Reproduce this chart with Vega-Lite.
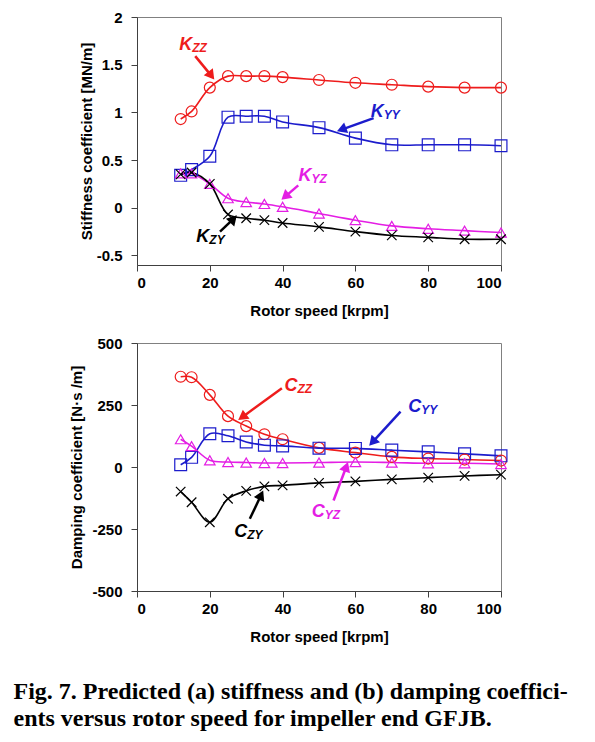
{
  "$schema": "https://vega.github.io/schema/vega-lite/v6.json",
  "padding": {"left": 13, "top": 9, "right": 5, "bottom": 5},
  "background": "white",
  "config": {
    "font": "Liberation Sans",
    "view": {"stroke": "#808080", "strokeWidth": 1},
    "axis": {"grid": false, "domainColor": "#404040", "tickColor": "#404040", "tickSize": 6,
      "labelFont": "Liberation Sans", "labelFontWeight": "bold", "labelFontSize": 15, "labelColor": "black",
      "titleFont": "Liberation Sans", "titleFontWeight": "bold", "titleFontSize": 15, "titleColor": "black"},
    "axisX": {"labelPadding": 4, "titlePadding": 13},
    "axisY": {"labelPadding": 9}
  },
  "datasets": {
    "stiff": [
      {"speed": 12, "value": 0.93, "pair": "ZZ"}, {"speed": 15, "value": 1.01, "pair": "ZZ"}, {"speed": 20, "value": 1.26, "pair": "ZZ"}, {"speed": 25, "value": 1.38, "pair": "ZZ"}, {"speed": 30, "value": 1.38, "pair": "ZZ"}, {"speed": 35, "value": 1.38, "pair": "ZZ"}, {"speed": 40, "value": 1.37, "pair": "ZZ"}, {"speed": 50, "value": 1.34, "pair": "ZZ"}, {"speed": 60, "value": 1.31, "pair": "ZZ"}, {"speed": 70, "value": 1.29, "pair": "ZZ"}, {"speed": 80, "value": 1.27, "pair": "ZZ"}, {"speed": 90, "value": 1.26, "pair": "ZZ"}, {"speed": 100, "value": 1.26, "pair": "ZZ"},
      {"speed": 12, "value": 0.34, "pair": "YY"}, {"speed": 15, "value": 0.40, "pair": "YY"}, {"speed": 20, "value": 0.54, "pair": "YY"}, {"speed": 25, "value": 0.95, "pair": "YY"}, {"speed": 30, "value": 0.96, "pair": "YY"}, {"speed": 35, "value": 0.96, "pair": "YY"}, {"speed": 40, "value": 0.90, "pair": "YY"}, {"speed": 50, "value": 0.84, "pair": "YY"}, {"speed": 60, "value": 0.73, "pair": "YY"}, {"speed": 70, "value": 0.66, "pair": "YY"}, {"speed": 80, "value": 0.66, "pair": "YY"}, {"speed": 90, "value": 0.66, "pair": "YY"}, {"speed": 100, "value": 0.65, "pair": "YY"},
      {"speed": 12, "value": 0.36, "pair": "YZ"}, {"speed": 15, "value": 0.36, "pair": "YZ"}, {"speed": 20, "value": 0.25, "pair": "YZ"}, {"speed": 25, "value": 0.10, "pair": "YZ"}, {"speed": 30, "value": 0.06, "pair": "YZ"}, {"speed": 35, "value": 0.04, "pair": "YZ"}, {"speed": 40, "value": 0.01, "pair": "YZ"}, {"speed": 50, "value": -0.06, "pair": "YZ"}, {"speed": 60, "value": -0.13, "pair": "YZ"}, {"speed": 70, "value": -0.19, "pair": "YZ"}, {"speed": 80, "value": -0.22, "pair": "YZ"}, {"speed": 90, "value": -0.24, "pair": "YZ"}, {"speed": 100, "value": -0.26, "pair": "YZ"},
      {"speed": 12, "value": 0.35, "pair": "ZY"}, {"speed": 15, "value": 0.37, "pair": "ZY"}, {"speed": 20, "value": 0.25, "pair": "ZY"}, {"speed": 25, "value": -0.07, "pair": "ZY"}, {"speed": 30, "value": -0.11, "pair": "ZY"}, {"speed": 35, "value": -0.13, "pair": "ZY"}, {"speed": 40, "value": -0.16, "pair": "ZY"}, {"speed": 50, "value": -0.20, "pair": "ZY"}, {"speed": 60, "value": -0.25, "pair": "ZY"}, {"speed": 70, "value": -0.29, "pair": "ZY"}, {"speed": 80, "value": -0.31, "pair": "ZY"}, {"speed": 90, "value": -0.33, "pair": "ZY"}, {"speed": 100, "value": -0.33, "pair": "ZY"}
    ],
    "damp": [
      {"speed": 12, "value": 364, "pair": "ZZ"}, {"speed": 15, "value": 362, "pair": "ZZ"}, {"speed": 20, "value": 291, "pair": "ZZ"}, {"speed": 25, "value": 205, "pair": "ZZ"}, {"speed": 30, "value": 165, "pair": "ZZ"}, {"speed": 35, "value": 132, "pair": "ZZ"}, {"speed": 40, "value": 112, "pair": "ZZ"}, {"speed": 50, "value": 77, "pair": "ZZ"}, {"speed": 60, "value": 58, "pair": "ZZ"}, {"speed": 70, "value": 41, "pair": "ZZ"}, {"speed": 80, "value": 34, "pair": "ZZ"}, {"speed": 90, "value": 30, "pair": "ZZ"}, {"speed": 100, "value": 26, "pair": "ZZ"},
      {"speed": 12, "value": 9, "pair": "YY"}, {"speed": 15, "value": 39, "pair": "YY"}, {"speed": 20, "value": 134, "pair": "YY"}, {"speed": 25, "value": 126, "pair": "YY"}, {"speed": 30, "value": 101, "pair": "YY"}, {"speed": 35, "value": 88, "pair": "YY"}, {"speed": 40, "value": 85, "pair": "YY"}, {"speed": 50, "value": 76, "pair": "YY"}, {"speed": 60, "value": 75, "pair": "YY"}, {"speed": 70, "value": 68, "pair": "YY"}, {"speed": 80, "value": 61, "pair": "YY"}, {"speed": 90, "value": 53, "pair": "YY"}, {"speed": 100, "value": 45, "pair": "YY"},
      {"speed": 12, "value": 112, "pair": "YZ"}, {"speed": 15, "value": 84, "pair": "YZ"}, {"speed": 20, "value": 27, "pair": "YZ"}, {"speed": 25, "value": 20, "pair": "YZ"}, {"speed": 30, "value": 18, "pair": "YZ"}, {"speed": 35, "value": 16, "pair": "YZ"}, {"speed": 40, "value": 16, "pair": "YZ"}, {"speed": 50, "value": 18, "pair": "YZ"}, {"speed": 60, "value": 20, "pair": "YZ"}, {"speed": 70, "value": 18, "pair": "YZ"}, {"speed": 80, "value": 15, "pair": "YZ"}, {"speed": 90, "value": 15, "pair": "YZ"}, {"speed": 100, "value": 12, "pair": "YZ"},
      {"speed": 12, "value": -99, "pair": "ZY"}, {"speed": 15, "value": -142, "pair": "ZY"}, {"speed": 20, "value": -223, "pair": "ZY"}, {"speed": 25, "value": -128, "pair": "ZY"}, {"speed": 30, "value": -96, "pair": "ZY"}, {"speed": 35, "value": -78, "pair": "ZY"}, {"speed": 40, "value": -74, "pair": "ZY"}, {"speed": 50, "value": -64, "pair": "ZY"}, {"speed": 60, "value": -58, "pair": "ZY"}, {"speed": 70, "value": -50, "pair": "ZY"}, {"speed": 80, "value": -43, "pair": "ZY"}, {"speed": 90, "value": -36, "pair": "ZY"}, {"speed": 100, "value": -31, "pair": "ZY"}
    ],
    "arrows": [
      {"panel": "a", "pair": "ZZ", "speed": 16.0, "value": 1.59, "speed2": 20.4, "value2": 1.385, "angle": 143},
      {"panel": "a", "pair": "YY", "speed": 65.0, "value": 0.94, "speed2": 56.2, "value2": 0.82, "angle": 249},
      {"panel": "a", "pair": "YZ", "speed": 44.3, "value": 0.235, "speed2": 40.7, "value2": 0.117, "angle": 229},
      {"panel": "a", "pair": "ZY", "speed": 22.8, "value": -0.25, "speed2": 26.5, "value2": -0.117, "angle": 43},
      {"panel": "b", "pair": "ZZ", "speed": 39.8, "value": 318, "speed2": 28.9, "value2": 201, "angle": 234},
      {"panel": "b", "pair": "YY", "speed": 72.4, "value": 223, "speed2": 64.7, "value2": 100, "angle": 222},
      {"panel": "b", "pair": "YZ", "speed": 54.0, "value": -135, "speed2": 57.5, "value2": 1, "angle": 20},
      {"panel": "b", "pair": "ZY", "speed": 31.0, "value": -209, "speed2": 34.1, "value2": -113, "angle": 25}
    ],
    "labels": [
      {"panel": "a", "pair": "ZZ", "letter": "K", "sub": "ZZ", "speed": 11.6, "value": 1.71},
      {"panel": "a", "pair": "YY", "letter": "K", "sub": "YY", "speed": 64.2, "value": 1.0},
      {"panel": "a", "pair": "YZ", "letter": "K", "sub": "YZ", "speed": 44.4, "value": 0.33},
      {"panel": "a", "pair": "ZY", "letter": "K", "sub": "ZY", "speed": 16.3, "value": -0.31},
      {"panel": "b", "pair": "ZZ", "letter": "C", "sub": "ZZ", "speed": 40.5, "value": 328},
      {"panel": "b", "pair": "YY", "letter": "C", "sub": "YY", "speed": 74.5, "value": 240},
      {"panel": "b", "pair": "YZ", "letter": "C", "sub": "YZ", "speed": 48.0, "value": -182},
      {"panel": "b", "pair": "ZY", "letter": "C", "sub": "ZY", "speed": 26.7, "value": -261}
    ]
  },
  "title": {
    "text": ["Fig. 7. Predicted (a) stiffness and (b) damping coeffici-", "ents versus rotor speed for impeller end GFJB."],
    "orient": "bottom", "anchor": "start", "font": "Liberation Serif", "fontSize": 24, "fontWeight": "bold",
    "lineHeight": 27, "offset": 35, "dx": -56, "color": "black"
  },
  "bounds": "flush",
  "spacing": 78,
  "vconcat": [
    {
      "width": 364, "height": 248,
      "layer": [
        {
          "data": {"name": "stiff"},
          "mark": {"type": "line", "interpolate": "catmull-rom", "strokeWidth": 1.6},
          "encoding": {
            "x": {"field": "speed", "type": "quantitative", "scale": {"domain": [0, 100]}, "axis": {"values": [0, 20, 40, 60, 80, 100], "title": "Rotor speed [krpm]"}},
            "y": {"field": "value", "type": "quantitative", "scale": {"domain": [-0.5, 2]}, "axis": {"values": [-0.5, 0, 0.5, 1, 1.5, 2], "title": "Stiffness coefficient [MN/m]", "titlePadding": 2, "labelExpr": "'' + datum.value"}},
            "color": {"field": "pair", "type": "nominal", "scale": {"domain": ["ZZ", "YY", "YZ", "ZY"], "range": ["#ee1c1c", "#1c1ccc", "#e41ee4", "#000000"]}, "legend": null}
          }
        },
        {
          "data": {"name": "stiff"},
          "mark": {"type": "point", "filled": false, "strokeWidth": 1.2, "opacity": 1},
          "encoding": {
            "x": {"field": "speed", "type": "quantitative"},
            "y": {"field": "value", "type": "quantitative"},
            "color": {"field": "pair", "type": "nominal", "legend": null},
            "shape": {"field": "pair", "type": "nominal", "scale": {"domain": ["ZZ", "YY", "YZ", "ZY"], "range": ["circle", "square", "triangle-up", "M-1,-1L1,1M-1,1L1,-1"]}, "legend": null},
            "size": {"field": "pair", "type": "nominal", "scale": {"type": "ordinal", "domain": ["ZZ", "YY", "YZ", "ZY"], "range": [120, 140, 110, 90]}, "legend": null}
          }
        },
        {
          "data": {"name": "arrows"},
          "transform": [{"filter": "datum.panel == 'a'"}],
          "mark": {"type": "rule", "strokeWidth": 2.5},
          "encoding": {
            "x": {"field": "speed", "type": "quantitative"},
            "y": {"field": "value", "type": "quantitative"},
            "x2": {"field": "speed2"},
            "y2": {"field": "value2"},
            "color": {"field": "pair", "type": "nominal", "legend": null}
          }
        },
        {
          "data": {"name": "arrows"},
          "transform": [{"filter": "datum.panel == 'a'"}],
          "mark": {"type": "point", "shape": "triangle-up", "filled": true, "size": 130, "opacity": 1},
          "encoding": {
            "x": {"field": "speed2", "type": "quantitative"},
            "y": {"field": "value2", "type": "quantitative"},
            "angle": {"field": "angle", "type": "quantitative", "scale": null},
            "color": {"field": "pair", "type": "nominal", "legend": null}
          }
        },
        {
          "data": {"name": "labels"},
          "transform": [{"filter": "datum.panel == 'a'"}],
          "mark": {"type": "text", "font": "Liberation Sans", "fontWeight": "bold", "fontStyle": "italic", "fontSize": 18, "align": "left", "baseline": "middle"},
          "encoding": {
            "x": {"field": "speed", "type": "quantitative"},
            "y": {"field": "value", "type": "quantitative"},
            "text": {"field": "letter"},
            "color": {"field": "pair", "type": "nominal", "legend": null}
          }
        },
        {
          "data": {"name": "labels"},
          "transform": [{"filter": "datum.panel == 'a'"}],
          "mark": {"type": "text", "font": "Liberation Sans", "fontWeight": "bold", "fontStyle": "italic", "fontSize": 12, "align": "left", "baseline": "middle", "dx": 13, "dy": 3},
          "encoding": {
            "x": {"field": "speed", "type": "quantitative"},
            "y": {"field": "value", "type": "quantitative"},
            "text": {"field": "sub"},
            "color": {"field": "pair", "type": "nominal", "legend": null}
          }
        },
        {
          "mark": {"type": "text", "text": "(a) Stiffness coefficient", "font": "Liberation Sans", "fontWeight": "bold", "fontSize": 18, "align": "right", "baseline": "alphabetic", "dx": -10, "dy": 23, "color": "black"},
          "encoding": {
            "x": {"datum": 100, "type": "quantitative"},
            "y": {"datum": 2, "type": "quantitative"}
          }
        }
      ]
    },
    {
      "width": 364, "height": 248,
      "layer": [
        {
          "data": {"name": "damp"},
          "mark": {"type": "line", "interpolate": "catmull-rom", "strokeWidth": 1.6},
          "encoding": {
            "x": {"field": "speed", "type": "quantitative", "scale": {"domain": [0, 100]}, "axis": {"values": [0, 20, 40, 60, 80, 100], "title": "Rotor speed [krpm]"}},
            "y": {"field": "value", "type": "quantitative", "scale": {"domain": [-500, 500]}, "axis": {"values": [-500, -250, 0, 250, 500], "title": "Damping coefficient [N·s /m]", "titlePadding": 7, "labelExpr": "'' + datum.value"}},
            "color": {"field": "pair", "type": "nominal", "scale": {"domain": ["ZZ", "YY", "YZ", "ZY"], "range": ["#ee1c1c", "#1c1ccc", "#e41ee4", "#000000"]}, "legend": null}
          }
        },
        {
          "data": {"name": "damp"},
          "mark": {"type": "point", "filled": false, "strokeWidth": 1.2, "opacity": 1},
          "encoding": {
            "x": {"field": "speed", "type": "quantitative"},
            "y": {"field": "value", "type": "quantitative"},
            "color": {"field": "pair", "type": "nominal", "legend": null},
            "shape": {"field": "pair", "type": "nominal", "scale": {"domain": ["ZZ", "YY", "YZ", "ZY"], "range": ["circle", "square", "triangle-up", "M-1,-1L1,1M-1,1L1,-1"]}, "legend": null},
            "size": {"field": "pair", "type": "nominal", "scale": {"type": "ordinal", "domain": ["ZZ", "YY", "YZ", "ZY"], "range": [120, 140, 110, 90]}, "legend": null}
          }
        },
        {
          "data": {"name": "arrows"},
          "transform": [{"filter": "datum.panel == 'b'"}],
          "mark": {"type": "rule", "strokeWidth": 2.5},
          "encoding": {
            "x": {"field": "speed", "type": "quantitative"},
            "y": {"field": "value", "type": "quantitative"},
            "x2": {"field": "speed2"},
            "y2": {"field": "value2"},
            "color": {"field": "pair", "type": "nominal", "legend": null}
          }
        },
        {
          "data": {"name": "arrows"},
          "transform": [{"filter": "datum.panel == 'b'"}],
          "mark": {"type": "point", "shape": "triangle-up", "filled": true, "size": 130, "opacity": 1},
          "encoding": {
            "x": {"field": "speed2", "type": "quantitative"},
            "y": {"field": "value2", "type": "quantitative"},
            "angle": {"field": "angle", "type": "quantitative", "scale": null},
            "color": {"field": "pair", "type": "nominal", "legend": null}
          }
        },
        {
          "data": {"name": "labels"},
          "transform": [{"filter": "datum.panel == 'b'"}],
          "mark": {"type": "text", "font": "Liberation Sans", "fontWeight": "bold", "fontStyle": "italic", "fontSize": 18, "align": "left", "baseline": "middle"},
          "encoding": {
            "x": {"field": "speed", "type": "quantitative"},
            "y": {"field": "value", "type": "quantitative"},
            "text": {"field": "letter"},
            "color": {"field": "pair", "type": "nominal", "legend": null}
          }
        },
        {
          "data": {"name": "labels"},
          "transform": [{"filter": "datum.panel == 'b'"}],
          "mark": {"type": "text", "font": "Liberation Sans", "fontWeight": "bold", "fontStyle": "italic", "fontSize": 12, "align": "left", "baseline": "middle", "dx": 13, "dy": 3},
          "encoding": {
            "x": {"field": "speed", "type": "quantitative"},
            "y": {"field": "value", "type": "quantitative"},
            "text": {"field": "sub"},
            "color": {"field": "pair", "type": "nominal", "legend": null}
          }
        },
        {
          "mark": {"type": "text", "text": "(b) Damping coefficient", "font": "Liberation Sans", "fontWeight": "bold", "fontSize": 18, "align": "right", "baseline": "alphabetic", "dx": -10, "dy": 21, "color": "black"},
          "encoding": {
            "x": {"datum": 100, "type": "quantitative"},
            "y": {"datum": 500, "type": "quantitative"}
          }
        }
      ]
    }
  ]
}
